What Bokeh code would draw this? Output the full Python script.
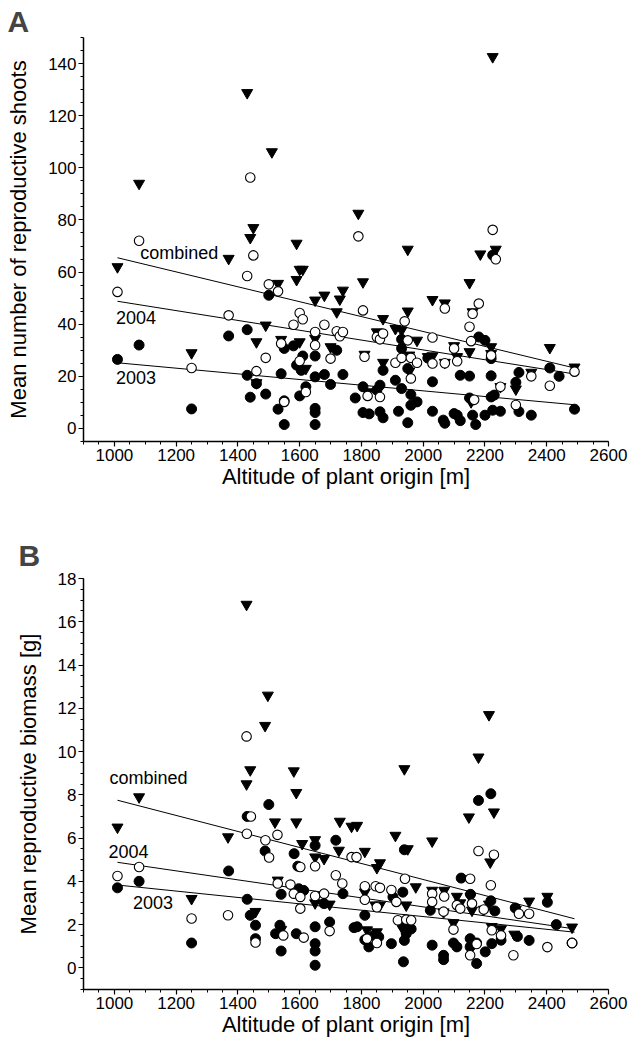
from bokeh.plotting import figure
from bokeh.models import Range1d, FixedTicker
from bokeh.layouts import column
from bokeh.core.properties import value
from bokeh.embed import file_html
from bokeh.resources import INLINE

FONT = "Liberation Sans"

# ---------------- Panel A: mean number of reproductive shoots ----------------
a03_x = [1010, 1080, 1250, 1370, 1430, 1430, 1440, 1460, 1490, 1500, 1530, 1540, 1550, 1550, 1550,
         1580, 1590, 1600, 1605, 1610, 1620, 1650, 1650, 1650, 1650, 1650, 1680, 1700, 1720, 1740,
         1780, 1805, 1805, 1825, 1850, 1860, 1860, 1870, 1870, 1910, 1920, 1930, 1930, 1930, 1950,
         1950, 1960, 1960, 1980, 2030, 2030, 2015, 2065, 2070, 2100, 2110, 2120, 2120, 2150, 2150,
         2160, 2160, 2170, 2180, 2200, 2200, 2220, 2220, 2220, 2225, 2230, 2250, 2225, 2300, 2310,
         2310, 2350, 2410, 2440, 2490]
a03_y = [26.5, 32, 7.5, 35.5, 37.9, 20.4, 12, 17.2, 13.2, 51.1, 7.4, 21, 30.7, 10.6, 1.5,
         31.7, 24.3, 12.5, 22.3, 27.8, 16, 27.8, 19.8, 7.7, 6.1, 1.5, 20.7, 16.9, 30, 20.7,
         11.7, 16, 6.1, 5.6, 14.7, 16.6, 6.4, 4.1, 22.3, 18.5, 6.6, 34.2, 30.7, 15.3, 23,
         2.2, 13, 8.9, 10.2, 17.9, 6.6, 27, 3.2, 2, 5.7, 5.1, 20.4, 3, 20.1, 11.7,
         10.9, 5.1, 1.5, 35.1, 33.8, 5.1, 20.2, 26.8, 12.1, 7, 12.8, 6.6, 66.5, 17.7, 21.5,
         6.5, 5.1, 23.2, 20, 7.4]

a04_x = [1010, 1080, 1250, 1370, 1430, 1440, 1450, 1460, 1490, 1500, 1530, 1540, 1550, 1580, 1600,
         1600, 1610, 1620, 1650, 1650, 1680, 1700, 1720, 1730, 1740, 1790, 1805, 1810, 1820, 1850,
         1860, 1860, 1870, 1910, 1930, 1940, 1950, 1960, 1960, 1980, 2030, 2030, 2070, 2070, 2100,
         2110, 2150, 2155, 2160, 2165, 2180, 2220, 2225, 2235, 2250, 2300, 2350, 2410, 2490]
a04_y = [52.4, 72, 23.2, 43.4, 58.5, 96.3, 66.4, 22, 27.1, 55.3, 52.6, 32.6, 10.2, 39.8, 44.3,
         25.9, 41.9, 14, 37, 31.9, 39.8, 26.8, 37.3, 35.4, 37, 73.7, 45.3, 27.5, 12.5, 35.1,
         34.2, 12.1, 36.4, 25.2, 27.1, 41.1, 33.8, 27.1, 19.2, 25.2, 34.9, 24.9, 46, 25, 30.7,
         25.8, 39, 33.5, 44, 11, 47.9, 28, 76.2, 64.9, 16, 9, 20, 16.4, 21.8]

acomb_x = [1010, 1080, 1250, 1370, 1430, 1440, 1450, 1460, 1460, 1490, 1510, 1530, 1540, 1590, 1590,
           1600, 1600, 1610, 1620, 1650, 1650, 1680, 1700, 1720, 1730, 1740, 1790, 1805, 1810, 1820,
           1850, 1870, 1870, 1910, 1930, 1950, 1950, 1955, 1955, 1980, 2015, 2030, 2030, 2070, 2070,
           2100, 2110, 2150, 2150, 2155, 2160, 2185, 2220, 2220, 2225, 2235, 2250, 2300, 2350, 2410,
           2490]
acomb_y = [62, 94, 29, 65.2, 128.8, 73.2, 77, 33.2, 17.5, 39.6, 106.1, 55.6, 34.1, 57.1, 71,
           33.2, 61, 61, 23, 49.2, 34.5, 51.1, 31.3, 44.7, 49.6, 53, 82.5, 56.2, 28.4, 14,
           37, 42.1, 25.3, 38.3, 37.7, 68.7, 45, 28.1, 22, 33.8, 27.5, 49.4, 27.8, 48.1, 25.3,
           31.7, 27.5, 55.9, 29.4, 10.2, 44.7, 66.9, 31.3, 28.7, 142.6, 68.7, 16, 15.1, 21.5, 31,
           23.5]

# regression lines (start / end of each line)
fit_x = [1010, 2490]
a_fit_comb = [65.5, 23.2]
a_fit_04 = [48.8, 20.9]
a_fit_03 = [25.2, 9.1]

a_lab_text = ["combined", "2004", "2003"]
a_lab_x = [1084, 1005, 1005]
a_lab_y = [67.5, 42.5, 19.5]

# ---------------- Panel B: mean reproductive biomass ----------------
b03_x = [1010, 1080, 1250, 1370, 1430, 1430, 1440, 1457, 1457, 1488, 1500, 1522, 1536, 1540, 1540,
         1582, 1589, 1594, 1597, 1613, 1650, 1650, 1650, 1650, 1650, 1679, 1697, 1717, 1740, 1776,
         1786, 1811, 1811, 1824, 1840, 1856, 1897, 1902, 1934, 1934, 1939, 1939, 1945, 1936, 1961,
         2023, 2029, 2066, 2066, 2098, 2109, 2123, 2152, 2153, 2152, 2173, 2173, 2179, 2201, 2219,
         2219, 2222, 2232, 2252, 2298, 2305, 2343, 2402, 2431, 2482]
b03_y = [3.7, 4.0, 1.15, 4.48, 7.0, 3.17, 2.43, 1.97, 1.35, 5.4, 7.55, 1.58, 1.97, 3.4, 0.78,
         5.28, 1.58, 4.7, 3.66, 3.58, 5.66, 1.9, 1.12, 0.78, 0.12, 2.97, 2.12, 5.9, 3.43, 1.86,
         1.9, 2.43, 1.3, 0.97, 1.5, 1.43, 1.12, 3.28, 3.5, 1.97, 5.46, 1.27, 1.58, 0.28, 1.8,
         2.66, 1.05, 0.58, 0.38, 1.15, 0.97, 4.15, 1.35, 3.4, 0.97, 1.15, 0.2, 7.74, 0.74, 8.05,
         3.1, 1.12, 2.63, 1.28, 2.77, 1.45, 1.27, 3.03, 2.0, 1.15]

b04_x = [1010, 1080, 1250, 1368, 1428, 1429, 1442, 1457, 1489, 1501, 1528, 1529, 1547, 1570, 1581,
         1602, 1602, 1602, 1613, 1650, 1650, 1679, 1697, 1717, 1738, 1768, 1784, 1811, 1811, 1818,
         1846, 1850, 1850, 1860, 1897, 1913, 1918, 1941, 1945, 1961, 2029, 2029, 2068, 2066, 2098,
         2109, 2120, 2152, 2152, 2158, 2173, 2179, 2196, 2219, 2222, 2229, 2252, 2292, 2310, 2343,
         2402, 2482]
b04_y = [4.25, 4.66, 2.28, 2.43, 10.7, 6.2, 7.0, 1.17, 5.9, 5.1, 6.15, 3.9, 1.5, 3.85, 3.43,
         4.66, 3.28, 2.74, 1.4, 4.7, 3.32, 3.43, 1.7, 4.28, 3.9, 5.12, 5.12, 3.77, 3.15, 1.35,
         3.77, 2.8, 1.15, 3.7, 3.6, 3.05, 2.2, 4.12, 2.23, 2.2, 3.43, 3.05, 3.3, 2.6, 1.77,
         2.9, 2.74, 4.12, 0.58, 2.97, 1.1, 5.4, 2.7, 3.82, 1.74, 5.23, 1.5, 0.58, 2.5, 2.5,
         0.96, 1.15]

bcomb_x = [1010, 1080, 1250, 1368, 1428, 1428, 1440, 1457, 1488, 1497, 1520, 1529, 1540, 1581, 1589,
           1589, 1608, 1650, 1650, 1650, 1679, 1697, 1727, 1730, 1768, 1786, 1811, 1811, 1818, 1845,
           1850, 1850, 1860, 1860, 1910, 1939, 1945, 1950, 1934, 1976, 2029, 2029, 2066, 2068, 2098,
           2109, 2120, 2148, 2153, 2158, 2179, 2196, 2213, 2213, 2217, 2222, 2229, 2252, 2295, 2300,
           2343, 2402, 2482]
bcomb_y = [6.5, 7.9, 3.2, 6.05, 16.8, 8.5, 9.15, 2.6, 11.2, 12.6, 6.74, 4.05, 1.77, 9.1, 8.1,
           6.74, 5.74, 5.92, 5.12, 3.0, 5.05, 2.94, 5.43, 6.77, 6.54, 6.58, 5.38, 3.5, 1.75, 2.9,
           4.63, 1.66, 4.85, 2.9, 6.12, 9.2, 2.9, 5.5, 1.8, 3.74, 5.86, 3.58, 2.58, 3.58, 2.08,
           3.3, 3.0, 6.97, 3.28, 2.66, 9.74, 2.7, 11.7, 2.94, 4.89, 1.9, 7.2, 1.8, 1.55, 2.7,
           3.08, 3.3, 1.88]

b_fit_comb = [7.75, 2.27]
b_fit_04 = [4.88, 1.8]
b_fit_03 = [3.83, 1.65]

b_lab_text = ["combined", "2004", "2003"]
b_lab_x = [984, 981, 1060]
b_lab_y = [8.8, 5.4, 3.0]

x_major = [1000, 1200, 1400, 1600, 1800, 2000, 2200, 2400, 2600]
x_minor = list(range(900, 2601, 50))


def make_panel(letter, ylabel, yrange, y_major, y_minor, height, top, bottom, left,
               title_standoff, title_offset, series, fits, labels):
    p = figure(width=630, height=height, x_range=Range1d(900, 2600), y_range=Range1d(*yrange),
               output_backend="svg", toolbar_location=None,
               min_border_left=left, min_border_right=22, min_border_top=top,
               min_border_bottom=bottom)
    p.outline_line_color = None
    p.grid.visible = False
    p.background_fill_color = "white"
    p.border_fill_color = "white"

    p.title.text = letter
    p.title.text_font = FONT
    p.title.text_font_size = "30px"
    p.title.text_font_style = "bold"
    p.title.align = "left"
    p.title.offset = title_offset
    p.title.standoff = title_standoff

    p.xaxis.ticker = FixedTicker(ticks=x_major, minor_ticks=x_minor)
    p.yaxis.ticker = FixedTicker(ticks=y_major, minor_ticks=y_minor)
    p.xaxis.axis_label = "Altitude of plant origin [m]"
    p.yaxis.axis_label = ylabel
    for ax in (p.xaxis[0], p.yaxis[0]):
        ax.axis_line_color = "black"
        ax.axis_line_width = 1.5
        ax.major_tick_line_width = 1.2
        ax.minor_tick_line_width = 1.0
        ax.major_tick_out = 5
        ax.major_tick_in = 0
        ax.minor_tick_out = 3
        ax.minor_tick_in = 0
        ax.major_label_text_font = FONT
        ax.major_label_text_font_size = "17px"
        ax.major_label_text_color = "black"
        ax.axis_label_text_font = FONT
        ax.axis_label_text_font_size = "22px"
        ax.axis_label_text_font_style = "normal"
        ax.axis_label_text_color = "black"
    p.xaxis.major_label_standoff = 2
    p.xaxis.axis_label_standoff = 0
    p.yaxis.major_label_standoff = 2
    p.yaxis.axis_label_standoff = 14

    (x03, y03), (x04, y04), (xc, yc) = series
    fc, f4, f3 = fits
    p.line(fit_x, fc, line_color="black", line_width=1)
    p.line(fit_x, f4, line_color="black", line_width=1)
    p.line(fit_x, f3, line_color="black", line_width=1)

    p.scatter(xc, yc, marker="inverted_triangle", size=11, fill_color="black", line_color="black")
    p.scatter(x03, y03, marker="circle", size=10, fill_color="black", line_color="black")
    p.scatter(x04, y04, marker="circle", size=9.5, fill_color="white", line_color="black",
              line_width=1.1)

    lt, lx, ly = labels
    p.text(x=lx, y=ly, text=lt, text_align="left", text_baseline="middle",
           text_font=value(FONT), text_font_size="18px", text_color="black")
    return p


pA = make_panel("A", "Mean number of reproductive shoots", (-5, 150),
                list(range(0, 141, 20)), list(range(-5, 151, 5)),
                height=495, top=37, bottom=54, left=83, title_standoff=0, title_offset=-76,
                series=((a03_x, a03_y), (a04_x, a04_y), (acomb_x, acomb_y)),
                fits=(a_fit_comb, a_fit_04, a_fit_03),
                labels=(a_lab_text, a_lab_x, a_lab_y))

pB = make_panel("B", "Mean reproductive biomass [g]", (-1, 18),
                list(range(0, 19, 2)), [v / 2 for v in range(-2, 37)],
                height=551, top=83, bottom=57, left=72, title_standoff=14, title_offset=-65,
                series=((b03_x, b03_y), (b04_x, b04_y), (bcomb_x, bcomb_y)),
                fits=(b_fit_comb, b_fit_04, b_fit_03),
                labels=(b_lab_text, b_lab_x, b_lab_y))

layout = column(pA, pB, spacing=0)
open("out.html", "w").write(file_html(layout, INLINE))
